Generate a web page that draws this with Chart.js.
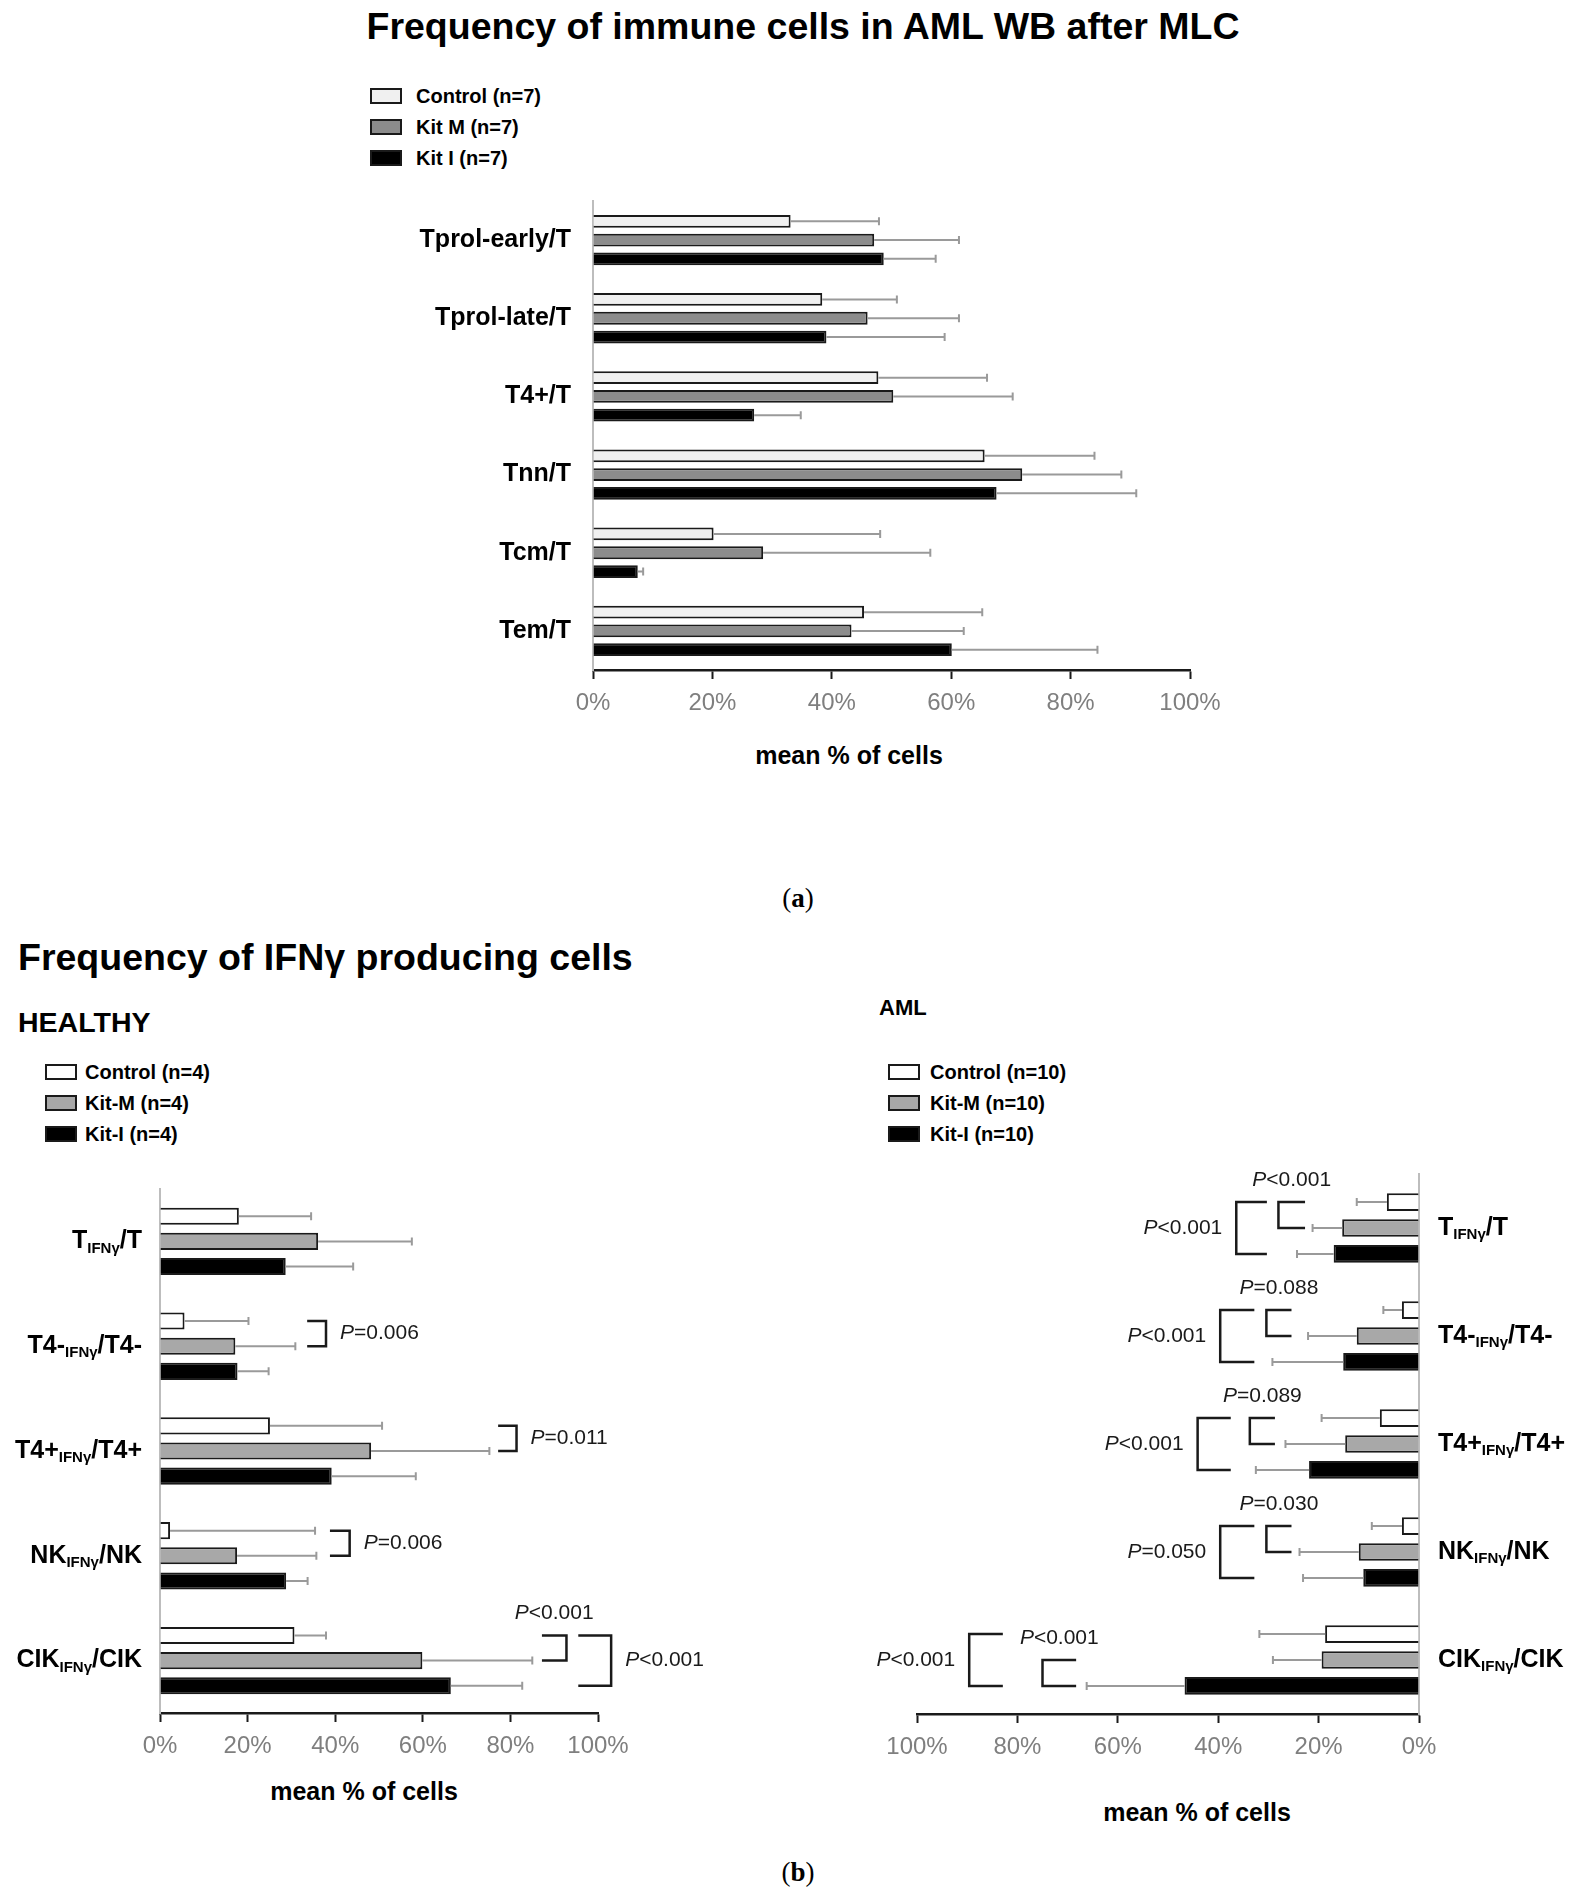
<!DOCTYPE html>
<html>
<head>
<meta charset="utf-8">
<script src="https://cdn.jsdelivr.net/npm/chart.js@4.4.1/dist/chart.umd.min.js"></script>
<style>
  body { margin: 0; background: #fff; }
  #page { position: relative; width: 1578px; height: 1900px; font-family: 'Liberation Sans', Arial, sans-serif; color: #000; overflow: hidden; }
  .txt { position: absolute; white-space: nowrap; transform: translateY(-50%); line-height: 1; }
  .mid { transform: translate(-50%, -50%); }
  .box { position: absolute; box-sizing: border-box; border: 2px solid #1a1a1a; }
  .holder { position: absolute; }
</style>
</head>
<body>
<div id="page">
  <div class="txt mid" style="left:803px; top:27px; font-size:37.5px; font-weight:bold;">Frequency of immune cells in AML WB after MLC</div>
  <div class="txt mid" style="left:849px; top:755px; font-size:25px; font-weight:bold;">mean % of cells</div>
  <div class="txt mid" style="left:798px; top:898px; font-size:27px; font-family:'Liberation Serif', serif;">(<b>a</b>)</div>

  <div class="txt" style="left:18px; top:958px; font-size:37.5px; font-weight:bold;">Frequency of IFNγ producing cells</div>
  <div class="txt" style="left:18px; top:1022px; font-size:28.5px; font-weight:bold;">HEALTHY</div>
  <div class="txt" style="left:879px; top:1008px; font-size:22px; font-weight:bold;">AML</div>
  <div class="txt mid" style="left:364px; top:1791px; font-size:25px; font-weight:bold;">mean % of cells</div>
  <div class="txt mid" style="left:1197px; top:1812px; font-size:25px; font-weight:bold;">mean % of cells</div>
  <div class="txt mid" style="left:798px; top:1872px; font-size:27px; font-family:'Liberation Serif', serif;">(<b>b</b>)</div>

  <div class="holder" style="left:360px; top:185px;"><canvas id="topChart" width="900" height="545"></canvas></div>
  <div class="holder" style="left:0px; top:1170px;"><canvas id="healthyChart" width="780" height="620"></canvas></div>
  <div class="holder" style="left:800px; top:1150px;"><canvas id="amlChart" width="778" height="640"></canvas></div>
</div>
<script>
// (a) immune cells in AML WB after MLC, mean % and SD
const topCells = ['Tprol-early/T', 'Tprol-late/T', 'T4+/T', 'Tnn/T', 'Tcm/T', 'Tem/T'];
const topSeries = ['Control (n=7)', 'Kit M (n=7)', 'Kit I (n=7)'];
const topControl = [33.1, 38.4, 47.8, 65.6, 20.2, 45.4];
const topControlSd = [14.8, 12.5, 18.2, 18.4, 27.9, 19.8];
const topKitM = [47.1, 46.0, 50.3, 71.9, 28.5, 43.3];
const topKitMSd = [14.2, 15.3, 20.0, 16.6, 28.0, 18.8];
const topKitI = [48.7, 39.1, 27.0, 67.6, 7.5, 60.1];
const topKitISd = [8.7, 19.8, 7.8, 23.4, 0.9, 24.4];

// (b) IFNγ producing cells
const ifnCells = ['T', 'T4-', 'T4+', 'NK', 'CIK'];

const healthySeries = ['Control (n=4)', 'Kit-M (n=4)', 'Kit-I (n=4)'];
const healthyControl = [18.0, 5.6, 25.1, 2.3, 30.7];
const healthyControlSd = [16.5, 14.6, 25.6, 33.1, 7.2];
const healthyKitM = [36.1, 17.2, 48.2, 17.6, 59.9];
const healthyKitMSd = [21.4, 13.7, 27.0, 18.1, 25.1];
const healthyKitI = [28.7, 17.7, 39.2, 28.8, 66.4];
const healthyKitISd = [15.4, 7.1, 19.2, 4.9, 16.3];

const amlSeries = ['Control (n=10)', 'Kit-M (n=10)', 'Kit-I (n=10)'];
const amlControl = [6.4, 3.4, 7.8, 3.4, 18.7];
const amlControlSd = [6.0, 3.7, 11.6, 6.0, 13.1];
const amlKitM = [15.3, 12.4, 14.7, 12.0, 19.4];
const amlKitMSd = [5.9, 9.7, 11.9, 11.8, 9.7];
const amlKitI = [17.0, 15.1, 21.9, 11.1, 46.7];
const amlKitISd = [7.3, 14.1, 10.6, 12.0, 19.5];

const pctTicks = [0, 20, 40, 60, 80, 100];

// significance tests: category, compared series, p value
const healthyTests = [
    { cat: 1, a: 0, b: 1, p: '=0.006' },
    { cat: 2, a: 0, b: 1, p: '=0.011' },
    { cat: 3, a: 0, b: 1, p: '=0.006' },
    { cat: 4, a: 0, b: 1, p: '<0.001' },
    { cat: 4, a: 0, b: 2, p: '<0.001' }
];
const amlTests = [
    { cat: 0, a: 0, b: 1, p: '<0.001' },
    { cat: 0, a: 0, b: 2, p: '<0.001' },
    { cat: 1, a: 0, b: 1, p: '=0.088' },
    { cat: 1, a: 0, b: 2, p: '<0.001' },
    { cat: 2, a: 0, b: 1, p: '=0.089' },
    { cat: 2, a: 0, b: 2, p: '<0.001' },
    { cat: 3, a: 0, b: 1, p: '=0.030' },
    { cat: 3, a: 0, b: 2, p: '=0.050' },
    { cat: 4, a: 1, b: 2, p: '<0.001' },
    { cat: 4, a: 0, b: 2, p: '<0.001' }
];

// where the brackets sit (in axis % units) and where their text goes
const healthyBracketPos = [
    { x: 37.9, arm: 33.6, where: 'side' },
    { x: 81.4, arm: 77.2, where: 'side' },
    { x: 43.3, arm: 38.8, where: 'side' },
    { x: 92.8, arm: 87.2, where: 'above' },
    { x: 103, arm: 95.5, where: 'side' }
];
const amlBracketPos = [
    { x: 28.0, arm: 22.7, where: 'above' },
    { x: 36.4, arm: 30.3, where: 'side' },
    { x: 30.4, arm: 25.4, where: 'above' },
    { x: 39.6, arm: 32.8, where: 'side' },
    { x: 33.7, arm: 28.7, where: 'above' },
    { x: 44.1, arm: 37.5, where: 'side' },
    { x: 30.4, arm: 25.4, where: 'above' },
    { x: 39.6, arm: 32.8, where: 'side' },
    { x: 75.0, arm: 68.3, where: 'above' },
    { x: 89.6, arm: 82.9, where: 'side' }
];

const FONT = "'Liberation Sans', Arial, sans-serif";
const topFills = ['#f0f0f0', '#8c8c8c', '#000000'];
const ifnFills = ['#ffffff', '#a8a8a8', '#000000'];

const page = document.getElementById('page');

// legend made of html boxes and text
function addLegend(left, top, gap, series, fills) {
    series.forEach((name, i) => {
        const y = top + i * 31;
        const box = document.createElement('div');
        box.className = 'box';
        box.style.cssText = `left:${left}px; top:${y - 8}px; width:32px; height:16px; background:${fills[i]};`;
        page.appendChild(box);
        const t = document.createElement('div');
        t.className = 'txt';
        t.style.cssText = `left:${left + gap}px; top:${y}px; font-size:20px; font-weight:bold;`;
        t.textContent = name;
        page.appendChild(t);
    });
}
addLegend(370, 96, 46, topSeries, topFills);
addLegend(45, 1072, 40, healthySeries, ifnFills);
addLegend(888, 1072, 42, amlSeries, ifnFills);

function makeDatasets(series, means, sds, fills) {
    return series.map((name, i) => ({
        label: name,
        data: means[i],
        errors: sds[i],
        backgroundColor: fills[i],
        borderColor: '#1a1a1a',
        borderWidth: 2,
        categoryPercentage: 0.72,
        barPercentage: 0.68
    }));
}

// one-sided error bars (mean + SD) with a cap
const errorBars = {
    id: 'errorBars',
    afterDatasetsDraw(chart) {
        const { ctx } = chart;
        const x = chart.scales.x;
        ctx.save();
        ctx.strokeStyle = '#9a9a9a';
        ctx.lineWidth = 2;
        chart.data.datasets.forEach((ds, di) => {
            chart.getDatasetMeta(di).data.forEach((bar, i) => {
                const x0 = x.getPixelForValue(ds.data[i]);
                const x1 = x.getPixelForValue(ds.data[i] + ds.errors[i]);
                ctx.beginPath();
                ctx.moveTo(x0, bar.y);
                ctx.lineTo(x1, bar.y);
                ctx.moveTo(x1, bar.y - 4);
                ctx.lineTo(x1, bar.y + 4);
                ctx.stroke();
            });
        });
        ctx.restore();
    }
};

// category labels, optionally with a subscript
function labelPlugin(parts, side, gap) {
    return {
        id: 'cellLabels',
        afterDraw(chart) {
            const { ctx, chartArea } = chart;
            const y = chart.scales.y;
            ctx.save();
            ctx.fillStyle = '#000';
            ctx.textBaseline = 'middle';
            ctx.textAlign = 'left';
            parts.forEach((p, i) => {
                const cy = y.getPixelForValue(i);
                let w = 0;
                p.forEach(s => { ctx.font = `bold ${s[1]}px ${FONT}`; w += ctx.measureText(s[0]).width; });
                let cx = side === 'left' ? chartArea.left - gap - w : chartArea.right + gap;
                p.forEach(s => {
                    ctx.font = `bold ${s[1]}px ${FONT}`;
                    ctx.fillText(s[0], cx, cy + s[2]);
                    cx += ctx.measureText(s[0]).width;
                });
            });
            ctx.restore();
        }
    };
}

function drawP(ctx, rest, x, y, align) {
    ctx.textBaseline = 'middle';
    ctx.textAlign = 'left';
    ctx.font = `italic 21px ${FONT}`;
    const wP = ctx.measureText('P').width;
    ctx.font = `21px ${FONT}`;
    const wR = ctx.measureText(rest).width;
    let sx = x;
    if (align === 'center') sx = x - (wP + wR) / 2;
    if (align === 'right') sx = x - wP - wR;
    ctx.fillStyle = '#1a1a1a';
    ctx.font = `italic 21px ${FONT}`;
    ctx.fillText('P', sx, y);
    ctx.font = `21px ${FONT}`;
    ctx.fillText(rest, sx + wP, y);
}

function bracketPlugin(tests, layout) {
    return {
        id: 'brackets',
        afterDraw(chart) {
            const { ctx } = chart;
            const x = chart.scales.x;
            ctx.save();
            tests.forEach((t, k) => {
                const pos = layout[k];
                const y1 = chart.getDatasetMeta(t.a).data[t.cat].y;
                const y2 = chart.getDatasetMeta(t.b).data[t.cat].y;
                const xv = x.getPixelForValue(pos.x);
                const xa = x.getPixelForValue(pos.arm);
                ctx.strokeStyle = '#1a1a1a';
                ctx.lineWidth = 2.5;
                ctx.beginPath();
                ctx.moveTo(xa, y1);
                ctx.lineTo(xv, y1);
                ctx.lineTo(xv, y2);
                ctx.lineTo(xa, y2);
                ctx.stroke();
                const dir = Math.sign(xv - xa);
                if (pos.where === 'above') {
                    drawP(ctx, t.p, (xv + xa) / 2, Math.min(y1, y2) - 22, 'center');
                } else {
                    drawP(ctx, t.p, xv + dir * 14, (y1 + y2) / 2, dir > 0 ? 'left' : 'right');
                }
            });
            ctx.restore();
        }
    };
}

function makeChart(id, labels, datasets, opts) {
    return new Chart(document.getElementById(id), {
        type: 'bar',
        data: { labels: labels, datasets: datasets },
        options: {
            indexAxis: 'y',
            responsive: false,
            animation: false,
            layout: { padding: opts.padding },
            plugins: { legend: { display: false }, tooltip: { enabled: false } },
            scales: {
                x: {
                    type: 'linear',
                    min: 0,
                    max: 100,
                    reverse: !!opts.reverse,
                    afterBuildTicks: s => { s.ticks = pctTicks.map(v => ({ value: v })); },
                    afterFit: s => { s.height = 50; },
                    ticks: {
                        callback: v => v + '%',
                        color: '#7f7f7f',
                        font: { family: FONT, size: 24 },
                        padding: 10,
                        maxRotation: 0
                    },
                    grid: { display: true, drawOnChartArea: false, drawTicks: true, tickLength: 9, tickWidth: 2, tickColor: '#1a1a1a' },
                    border: { display: true, color: '#1a1a1a', width: 2.5 }
                },
                y: {
                    type: 'category',
                    position: opts.yPos || 'left',
                    afterFit: s => { s.width = 0; },
                    ticks: { display: false },
                    grid: { display: false },
                    border: { display: true, color: '#bdbdbd', width: 2 }
                }
            }
        },
        plugins: opts.plugins
    });
}

// (a)
makeChart('topChart', topCells,
    makeDatasets(topSeries, [topControl, topKitM, topKitI], [topControlSd, topKitMSd, topKitISd], topFills),
    {
        padding: { left: 233, right: 70, top: 16, bottom: 10 },
        plugins: [errorBars, labelPlugin(topCells.map(c => [[c, 25, 0]]), 'left', 22)]
    });

const ifnLabelParts = ifnCells.map(c => [[c, 25, 0], ['IFNγ', 15, 7], ['/' + c, 25, 0]]);

// (b) healthy
makeChart('healthyChart', ifnCells,
    makeDatasets(healthySeries, [healthyControl, healthyKitM, healthyKitI], [healthyControlSd, healthyKitMSd, healthyKitISd], ifnFills),
    {
        padding: { left: 160, right: 182, top: 19, bottom: 27 },
        plugins: [errorBars, labelPlugin(ifnLabelParts, 'left', 18), bracketPlugin(healthyTests, healthyBracketPos)]
    });

// (b) AML, axis mirrored
makeChart('amlChart', ifnCells,
    makeDatasets(amlSeries, [amlControl, amlKitM, amlKitI], [amlControlSd, amlKitMSd, amlKitISd], ifnFills),
    {
        reverse: true,
        yPos: 'right',
        padding: { left: 117, right: 159, top: 24, bottom: 26 },
        plugins: [errorBars, labelPlugin(ifnLabelParts, 'right', 19), bracketPlugin(amlTests, amlBracketPos)]
    });
</script>
</body>
</html>
